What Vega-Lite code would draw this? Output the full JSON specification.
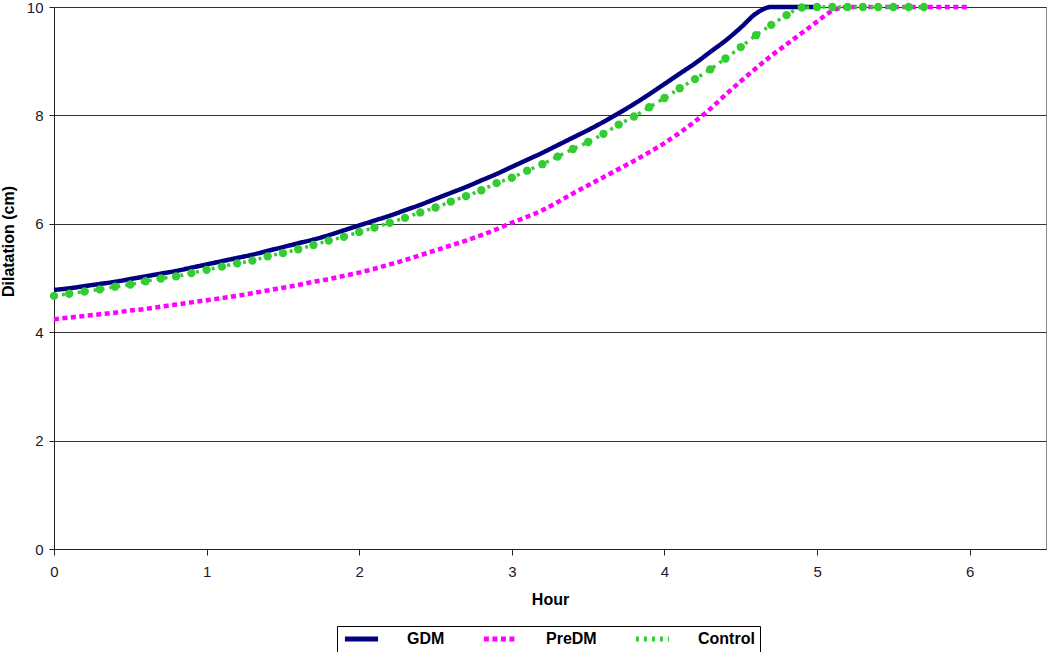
{
  "$schema": "https://vega.github.io/schema/vega-lite/v6.json",
  "width": 992,
  "height": 542,
  "autosize": "none",
  "padding": {"left": 54, "top": 7, "right": 4, "bottom": 103},
  "background": "white",
  "config": {
    "font": "Liberation Sans",
    "view": {"stroke": "#888888", "strokeWidth": 1},
    "axis": {"labelFont": "Liberation Sans", "titleFont": "Liberation Sans", "labelFontSize": 15, "labelColor": "#1a1a2e", "titleFontSize": 16, "titleFontWeight": "bold", "titleColor": "#000000", "domainColor": "#222222", "tickColor": "#222222", "gridColor": "#333333", "gridOpacity": 1, "gridWidth": 1}
  },
  "data": {"values": [
    {"hour":0,"dil":4.78,"group":"GDM"},{"hour":0.1,"dil":4.81,"group":"GDM"},{"hour":0.2,"dil":4.85,"group":"GDM"},{"hour":0.3,"dil":4.89,"group":"GDM"},{"hour":0.4,"dil":4.93,"group":"GDM"},{"hour":0.5,"dil":4.98,"group":"GDM"},{"hour":0.6,"dil":5.03,"group":"GDM"},{"hour":0.7,"dil":5.08,"group":"GDM"},{"hour":0.8,"dil":5.13,"group":"GDM"},{"hour":0.9,"dil":5.19,"group":"GDM"},{"hour":1.0,"dil":5.25,"group":"GDM"},{"hour":1.1,"dil":5.31,"group":"GDM"},{"hour":1.2,"dil":5.37,"group":"GDM"},{"hour":1.3,"dil":5.43,"group":"GDM"},{"hour":1.4,"dil":5.5,"group":"GDM"},{"hour":1.5,"dil":5.57,"group":"GDM"},{"hour":1.6,"dil":5.64,"group":"GDM"},{"hour":1.7,"dil":5.71,"group":"GDM"},{"hour":1.8,"dil":5.79,"group":"GDM"},{"hour":1.9,"dil":5.88,"group":"GDM"},{"hour":2.0,"dil":5.97,"group":"GDM"},{"hour":2.1,"dil":6.06,"group":"GDM"},{"hour":2.2,"dil":6.15,"group":"GDM"},{"hour":2.3,"dil":6.25,"group":"GDM"},{"hour":2.4,"dil":6.35,"group":"GDM"},{"hour":2.5,"dil":6.46,"group":"GDM"},{"hour":2.6,"dil":6.57,"group":"GDM"},{"hour":2.7,"dil":6.68,"group":"GDM"},{"hour":2.8,"dil":6.8,"group":"GDM"},{"hour":2.9,"dil":6.92,"group":"GDM"},{"hour":3.0,"dil":7.05,"group":"GDM"},{"hour":3.1,"dil":7.18,"group":"GDM"},{"hour":3.2,"dil":7.31,"group":"GDM"},{"hour":3.3,"dil":7.45,"group":"GDM"},{"hour":3.4,"dil":7.59,"group":"GDM"},{"hour":3.5,"dil":7.73,"group":"GDM"},{"hour":3.6,"dil":7.88,"group":"GDM"},{"hour":3.7,"dil":8.04,"group":"GDM"},{"hour":3.8,"dil":8.21,"group":"GDM"},{"hour":3.9,"dil":8.39,"group":"GDM"},{"hour":4.0,"dil":8.58,"group":"GDM"},{"hour":4.1,"dil":8.77,"group":"GDM"},{"hour":4.2,"dil":8.96,"group":"GDM"},{"hour":4.3,"dil":9.17,"group":"GDM"},{"hour":4.4,"dil":9.38,"group":"GDM"},{"hour":4.5,"dil":9.62,"group":"GDM"},{"hour":4.6,"dil":9.88,"group":"GDM"},{"hour":4.7,"dil":10,"group":"GDM"},{"hour":4.8,"dil":10,"group":"GDM"},{"hour":4.9,"dil":10,"group":"GDM"},{"hour":5.0,"dil":10,"group":"GDM"},
    {"hour":0,"dil":4.24,"group":"PreDM"},{"hour":0.1,"dil":4.27,"group":"PreDM"},{"hour":0.2,"dil":4.3,"group":"PreDM"},{"hour":0.3,"dil":4.33,"group":"PreDM"},{"hour":0.4,"dil":4.36,"group":"PreDM"},{"hour":0.5,"dil":4.4,"group":"PreDM"},{"hour":0.6,"dil":4.43,"group":"PreDM"},{"hour":0.7,"dil":4.47,"group":"PreDM"},{"hour":0.8,"dil":4.51,"group":"PreDM"},{"hour":0.9,"dil":4.55,"group":"PreDM"},{"hour":1.0,"dil":4.59,"group":"PreDM"},{"hour":1.1,"dil":4.63,"group":"PreDM"},{"hour":1.2,"dil":4.67,"group":"PreDM"},{"hour":1.3,"dil":4.72,"group":"PreDM"},{"hour":1.4,"dil":4.77,"group":"PreDM"},{"hour":1.5,"dil":4.82,"group":"PreDM"},{"hour":1.6,"dil":4.87,"group":"PreDM"},{"hour":1.7,"dil":4.93,"group":"PreDM"},{"hour":1.8,"dil":4.98,"group":"PreDM"},{"hour":1.9,"dil":5.04,"group":"PreDM"},{"hour":2.0,"dil":5.1,"group":"PreDM"},{"hour":2.1,"dil":5.17,"group":"PreDM"},{"hour":2.2,"dil":5.25,"group":"PreDM"},{"hour":2.3,"dil":5.33,"group":"PreDM"},{"hour":2.4,"dil":5.42,"group":"PreDM"},{"hour":2.5,"dil":5.51,"group":"PreDM"},{"hour":2.6,"dil":5.6,"group":"PreDM"},{"hour":2.7,"dil":5.69,"group":"PreDM"},{"hour":2.8,"dil":5.79,"group":"PreDM"},{"hour":2.9,"dil":5.9,"group":"PreDM"},{"hour":3.0,"dil":6.02,"group":"PreDM"},{"hour":3.1,"dil":6.13,"group":"PreDM"},{"hour":3.2,"dil":6.25,"group":"PreDM"},{"hour":3.3,"dil":6.4,"group":"PreDM"},{"hour":3.4,"dil":6.56,"group":"PreDM"},{"hour":3.5,"dil":6.71,"group":"PreDM"},{"hour":3.6,"dil":6.86,"group":"PreDM"},{"hour":3.7,"dil":7.01,"group":"PreDM"},{"hour":3.8,"dil":7.16,"group":"PreDM"},{"hour":3.9,"dil":7.32,"group":"PreDM"},{"hour":4.0,"dil":7.49,"group":"PreDM"},{"hour":4.1,"dil":7.68,"group":"PreDM"},{"hour":4.2,"dil":7.89,"group":"PreDM"},{"hour":4.3,"dil":8.12,"group":"PreDM"},{"hour":4.4,"dil":8.38,"group":"PreDM"},{"hour":4.5,"dil":8.63,"group":"PreDM"},{"hour":4.6,"dil":8.87,"group":"PreDM"},{"hour":4.7,"dil":9.1,"group":"PreDM"},{"hour":4.8,"dil":9.31,"group":"PreDM"},{"hour":4.9,"dil":9.52,"group":"PreDM"},{"hour":5.0,"dil":9.73,"group":"PreDM"},{"hour":5.1,"dil":9.93,"group":"PreDM"},{"hour":5.2,"dil":10,"group":"PreDM"},{"hour":5.3,"dil":10,"group":"PreDM"},{"hour":5.4,"dil":10,"group":"PreDM"},{"hour":5.5,"dil":10,"group":"PreDM"},{"hour":5.6,"dil":10,"group":"PreDM"},{"hour":5.7,"dil":10,"group":"PreDM"},{"hour":5.8,"dil":10,"group":"PreDM"},{"hour":5.9,"dil":10,"group":"PreDM"},{"hour":6.0,"dil":10,"group":"PreDM"},
    {"hour":0,"dil":4.67,"group":"Control"},{"hour":0.1,"dil":4.71,"group":"Control"},{"hour":0.2,"dil":4.75,"group":"Control"},{"hour":0.3,"dil":4.79,"group":"Control"},{"hour":0.4,"dil":4.84,"group":"Control"},{"hour":0.5,"dil":4.88,"group":"Control"},{"hour":0.6,"dil":4.94,"group":"Control"},{"hour":0.7,"dil":4.99,"group":"Control"},{"hour":0.8,"dil":5.03,"group":"Control"},{"hour":0.9,"dil":5.09,"group":"Control"},{"hour":1.0,"dil":5.15,"group":"Control"},{"hour":1.1,"dil":5.21,"group":"Control"},{"hour":1.2,"dil":5.27,"group":"Control"},{"hour":1.3,"dil":5.32,"group":"Control"},{"hour":1.4,"dil":5.4,"group":"Control"},{"hour":1.5,"dil":5.46,"group":"Control"},{"hour":1.6,"dil":5.53,"group":"Control"},{"hour":1.7,"dil":5.61,"group":"Control"},{"hour":1.8,"dil":5.69,"group":"Control"},{"hour":1.9,"dil":5.76,"group":"Control"},{"hour":2.0,"dil":5.85,"group":"Control"},{"hour":2.1,"dil":5.93,"group":"Control"},{"hour":2.2,"dil":6.02,"group":"Control"},{"hour":2.3,"dil":6.11,"group":"Control"},{"hour":2.4,"dil":6.21,"group":"Control"},{"hour":2.5,"dil":6.3,"group":"Control"},{"hour":2.6,"dil":6.41,"group":"Control"},{"hour":2.7,"dil":6.51,"group":"Control"},{"hour":2.8,"dil":6.62,"group":"Control"},{"hour":2.9,"dil":6.75,"group":"Control"},{"hour":3.0,"dil":6.85,"group":"Control"},{"hour":3.1,"dil":6.98,"group":"Control"},{"hour":3.2,"dil":7.1,"group":"Control"},{"hour":3.3,"dil":7.24,"group":"Control"},{"hour":3.4,"dil":7.38,"group":"Control"},{"hour":3.5,"dil":7.51,"group":"Control"},{"hour":3.6,"dil":7.66,"group":"Control"},{"hour":3.7,"dil":7.83,"group":"Control"},{"hour":3.8,"dil":7.98,"group":"Control"},{"hour":3.9,"dil":8.15,"group":"Control"},{"hour":4.0,"dil":8.32,"group":"Control"},{"hour":4.1,"dil":8.5,"group":"Control"},{"hour":4.2,"dil":8.67,"group":"Control"},{"hour":4.3,"dil":8.85,"group":"Control"},{"hour":4.4,"dil":9.05,"group":"Control"},{"hour":4.5,"dil":9.26,"group":"Control"},{"hour":4.6,"dil":9.48,"group":"Control"},{"hour":4.7,"dil":9.67,"group":"Control"},{"hour":4.8,"dil":9.85,"group":"Control"},{"hour":4.9,"dil":9.99,"group":"Control"},{"hour":5.0,"dil":10,"group":"Control"},{"hour":5.1,"dil":10,"group":"Control"},{"hour":5.2,"dil":10,"group":"Control"},{"hour":5.3,"dil":10,"group":"Control"},{"hour":5.4,"dil":10,"group":"Control"},{"hour":5.5,"dil":10,"group":"Control"},{"hour":5.6,"dil":10,"group":"Control"},{"hour":5.7,"dil":10,"group":"Control"}
  ]},
  "encoding": {
    "x": {"field": "hour", "type": "quantitative", "title": "Hour",
      "scale": {"domain": [0, 6.5], "nice": false, "zero": false},
      "axis": {"values": [0,1,2,3,4,5,6], "grid": false, "tickSize": 6, "labelPadding": 9, "titlePadding": 12, "labelFlush": false}},
    "y": {"field": "dil", "type": "quantitative", "title": "Dilatation (cm)",
      "scale": {"domain": [0, 10], "nice": false},
      "axis": {"values": [0,2,4,6,8,10], "grid": true, "tickSize": 5, "labelPadding": 6, "titlePadding": 10, "titleY": 234, "labelFlush": false}},
    "color": {"field": "group", "type": "nominal",
      "scale": {"domain": ["GDM","PreDM","Control"], "range": ["#000080","#FF00FF","#33CC33"]},
      "legend": {"title": null, "orient": "none", "legendX": 283, "legendY": 619, "direction": "horizontal",
        "strokeColor": "#000000", "padding": 5, "clipHeight": 16, "symbolType": "stroke", "symbolSize": 1100, "symbolStrokeWidth": 5,
        "labelFontSize": 16, "labelFontWeight": "bold", "labelFont": "Liberation Sans", "labelColor": "#000000", "labelOffset": 26, "columnPadding": 36, "symbolOffset": 0}},
    "strokeDash": {"field": "group", "type": "nominal",
      "scale": {"domain": ["GDM","PreDM","Control"], "range": [[1,0],[5,3.5],[3,5]]},
      "legend": {"title": null}}
  },
  "layer": [
    {"transform": [{"filter": "datum.group === 'GDM'"}], "mark": {"type": "line", "strokeWidth": 4.5, "interpolate": "monotone"}},
    {"transform": [{"filter": "datum.group === 'PreDM'"}], "mark": {"type": "line", "strokeWidth": 4.5, "interpolate": "monotone"}},
    {"transform": [{"filter": "datum.group === 'Control'"}], "mark": {"type": "line", "strokeWidth": 3.5, "interpolate": "monotone"}},
    {"transform": [{"filter": "datum.group === 'Control'"}], "mark": {"type": "point", "filled": true, "size": 70, "opacity": 1, "color": "#33CC33"},
      "encoding": {"color": {"value": "#33CC33"}, "strokeDash": {"value": [1,0]}}}
  ]
}
